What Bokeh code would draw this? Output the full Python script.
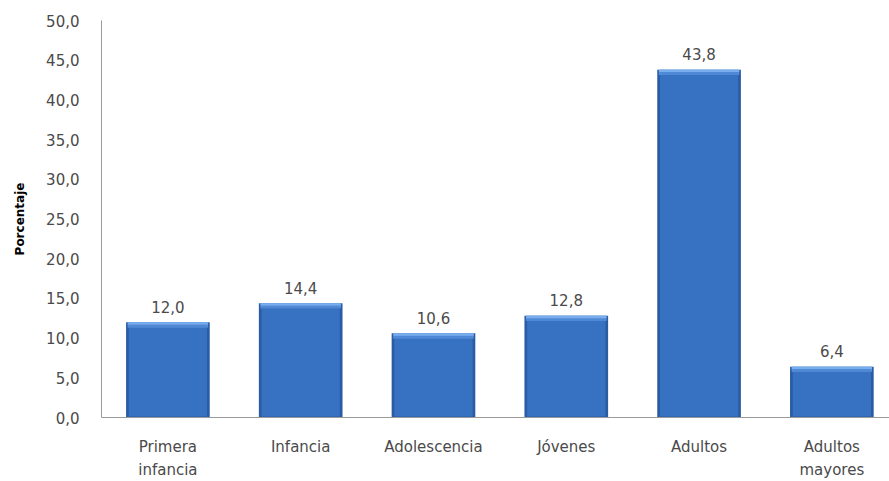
from bokeh.plotting import figure
from bokeh.models import Range1d, FixedTicker, ColumnDataSource
from bokeh.embed import file_html
from bokeh.resources import INLINE

categories = ["Primera\ninfancia", "Infancia", "Adolescencia", "Jóvenes", "Adultos", "Adultos\nmayores"]
values = [12.0, 14.4, 10.6, 12.8, 43.8, 6.4]
y_ticks = [0, 5, 10, 15, 20, 25, 30, 35, 40, 45, 50]
y_tick_labels = ["0,0", "5,0", "10,0", "15,0", "20,0", "25,0", "30,0", "35,0", "40,0", "45,0", "50,0"]

FONT = "DejaVu Sans"
TXT = "#4a4a4a"

xs = list(range(len(categories)))
bevel = 0.65
src = ColumnDataSource(dict(
    x=xs,
    top=values,
    bevel_bottom=[v - bevel for v in values],
    bevel_mid=[v - bevel * 0.45 for v in values],
    label=[f"{v:.1f}".replace(".", ",") for v in values],
    label_y=[v + 1.2 for v in values],
))

p = figure(width=889, height=481, output_backend="svg", toolbar_location=None,
           x_range=Range1d(-0.5, 5.434), y_range=Range1d(0, 50),
           min_border_left=101, min_border_right=0, min_border_top=20, min_border_bottom=64)
p.outline_line_color = None
p.background_fill_color = "white"
p.border_fill_color = "white"
p.xgrid.grid_line_color = None
p.ygrid.grid_line_color = None

# bars: dark edge, body, top bevel
p.vbar(x="x", top="top", bottom=0, width=0.63, source=src, fill_color="#2a5ca3", line_color=None)
p.vbar(x="x", top="bevel_bottom", bottom=0.12, width=0.59, source=src, fill_color="#3771c1", line_color=None)
p.vbar(x="x", top="top", bottom="bevel_bottom", width=0.605, source=src, fill_color="#5b93dc", line_color=None)
p.vbar(x="x", top="bevel_mid", bottom="bevel_bottom", width=0.59, source=src, fill_color="#4f88d4", line_color=None)
p.vbar(x="x", top="top", bottom="bevel_mid", width=0.605, source=src, fill_color="#79aeee", line_color=None)

p.text(x="x", y="label_y", text="label", source=src, text_align="center", text_baseline="bottom",
       text_font_size="15px", text_color=TXT, text_font={"value": FONT})

p.xaxis.ticker = FixedTicker(ticks=xs)
p.xaxis.major_label_overrides = {i: c for i, c in enumerate(categories)}
p.xaxis.major_tick_line_color = None
p.xaxis.minor_tick_line_color = None
p.xaxis.axis_line_color = "#9a9a9a"
p.xaxis.major_label_text_font = FONT
p.xaxis.major_label_text_font_size = "15px"
p.xaxis.major_label_text_color = TXT
p.xaxis.major_label_standoff = 14
p.xaxis.major_label_text_line_height = 1.3

p.yaxis.ticker = FixedTicker(ticks=y_ticks)
p.yaxis.major_label_overrides = {t: l for t, l in zip(y_ticks, y_tick_labels)}
p.yaxis.major_tick_line_color = None
p.yaxis.minor_tick_line_color = None
p.yaxis.axis_line_color = "#9a9a9a"
p.yaxis.major_label_text_font = FONT
p.yaxis.major_label_text_font_size = "15px"
p.yaxis.major_label_text_color = TXT
p.yaxis.major_label_standoff = 16
p.yaxis.axis_label = "Porcentaje"
p.yaxis.axis_label_text_font = FONT
p.yaxis.axis_label_text_font_size = "12px"
p.yaxis.axis_label_text_font_style = "bold"
p.yaxis.axis_label_text_color = "#000000"
p.yaxis.axis_label_standoff = 16

open("out.html", "w").write(file_html(p, INLINE))
